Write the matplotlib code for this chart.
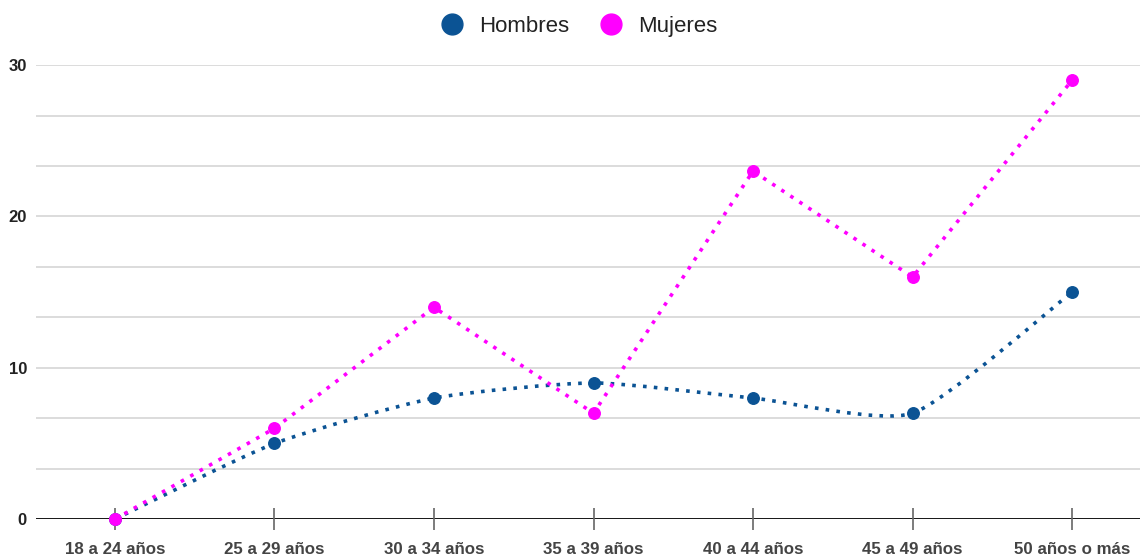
import matplotlib
matplotlib.use("Agg")
import matplotlib.pyplot as plt
from matplotlib.lines import Line2D
from matplotlib.path import Path
from matplotlib.patches import PathPatch
import numpy as np

# === Data ===
categories = ["18 a 24 años", "25 a 29 años", "30 a 34 años", "35 a 39 años",
              "40 a 44 años", "45 a 49 años", "50 años o más"]
hombres = [0, 5, 8, 9, 8, 7, 15]
mujeres = [0, 6, 14, 7, 23, 16, 29]

c_hom = "#0b5394"
c_muj = "#ff00ff"

plt.rcParams["font.family"] = ["Liberation Sans", "DejaVu Sans"]


def smooth_path(xs, ys, k=0.1):
    # Catmull-Rom style bezier through the points (data coords)
    pts = list(zip(xs, ys))
    verts = [pts[0]]
    codes = [Path.MOVETO]
    n = len(pts)
    for i in range(n - 1):
        p0 = pts[max(i - 1, 0)]
        p1 = pts[i]
        p2 = pts[i + 1]
        p3 = pts[min(i + 2, n - 1)]
        c1 = (p1[0] + (p2[0] - p0[0]) * k, p1[1] + (p2[1] - p0[1]) * k)
        c2 = (p2[0] - (p3[0] - p1[0]) * k, p2[1] - (p3[1] - p1[1]) * k)
        verts += [c1, c2, p2]
        codes += [Path.CURVE4] * 3
    return Path(verts, codes)


fig = plt.figure(figsize=(11.4, 5.57), dpi=100)
ax = fig.add_axes([36 / 1140, 0.068, 1 - 36 / 1140, 0.815])

x = np.arange(len(categories))

# gridlines (major every 10, minor in between)
for v in np.arange(10 / 3, 30.01, 10 / 3):
    ax.axhline(v, color="#d9d9d9", lw=1.3, zorder=0)
ax.axhline(0, color="black", lw=2, zorder=1)

dots = (0, (1, 2.0))
patch = PathPatch(smooth_path(x, hombres), facecolor="none", edgecolor=c_hom,
                  lw=2.6, linestyle=dots, zorder=3, capstyle="butt")
ax.add_patch(patch)
ax.plot(x, hombres, ls="none", marker="o", ms=8.3, color=c_hom,
        zorder=4, clip_on=False)

ax.plot(x, mujeres, color=c_muj, lw=2.6, linestyle=dots, marker="o",
        ms=8.3, zorder=5, clip_on=False, dash_capstyle="butt")

ax.set_xlim(-0.495, 6.426)
ax.set_ylim(0, 30)

ax.set_xticks(x)
ax.set_xticklabels(categories, fontsize=12.2, fontweight="bold", color="#444444")
ax.tick_params(axis="x", direction="inout", length=16, width=1.2,
               color="#666666", pad=8.5)
ax.set_yticks([0, 10, 20, 30])
ax.set_yticklabels(["0", "10", "20", "30"], fontsize=12, fontweight="bold",
                   color="#222222")
ax.tick_params(axis="y", length=0, pad=6.5)

for s in ax.spines.values():
    s.set_visible(False)

handles = [Line2D([], [], ls="none", marker="o", ms=15, color=c_hom),
           Line2D([], [], ls="none", marker="o", ms=15, color=c_muj)]
fig.legend(handles, ["Hombres", "Mujeres"], loc="center",
           bbox_to_anchor=(0.503, 0.953), ncol=2, frameon=False,
           fontsize=16, handletextpad=0.22, columnspacing=0.9,
           labelcolor="#222222")

fig.savefig("out.png", dpi=100)
